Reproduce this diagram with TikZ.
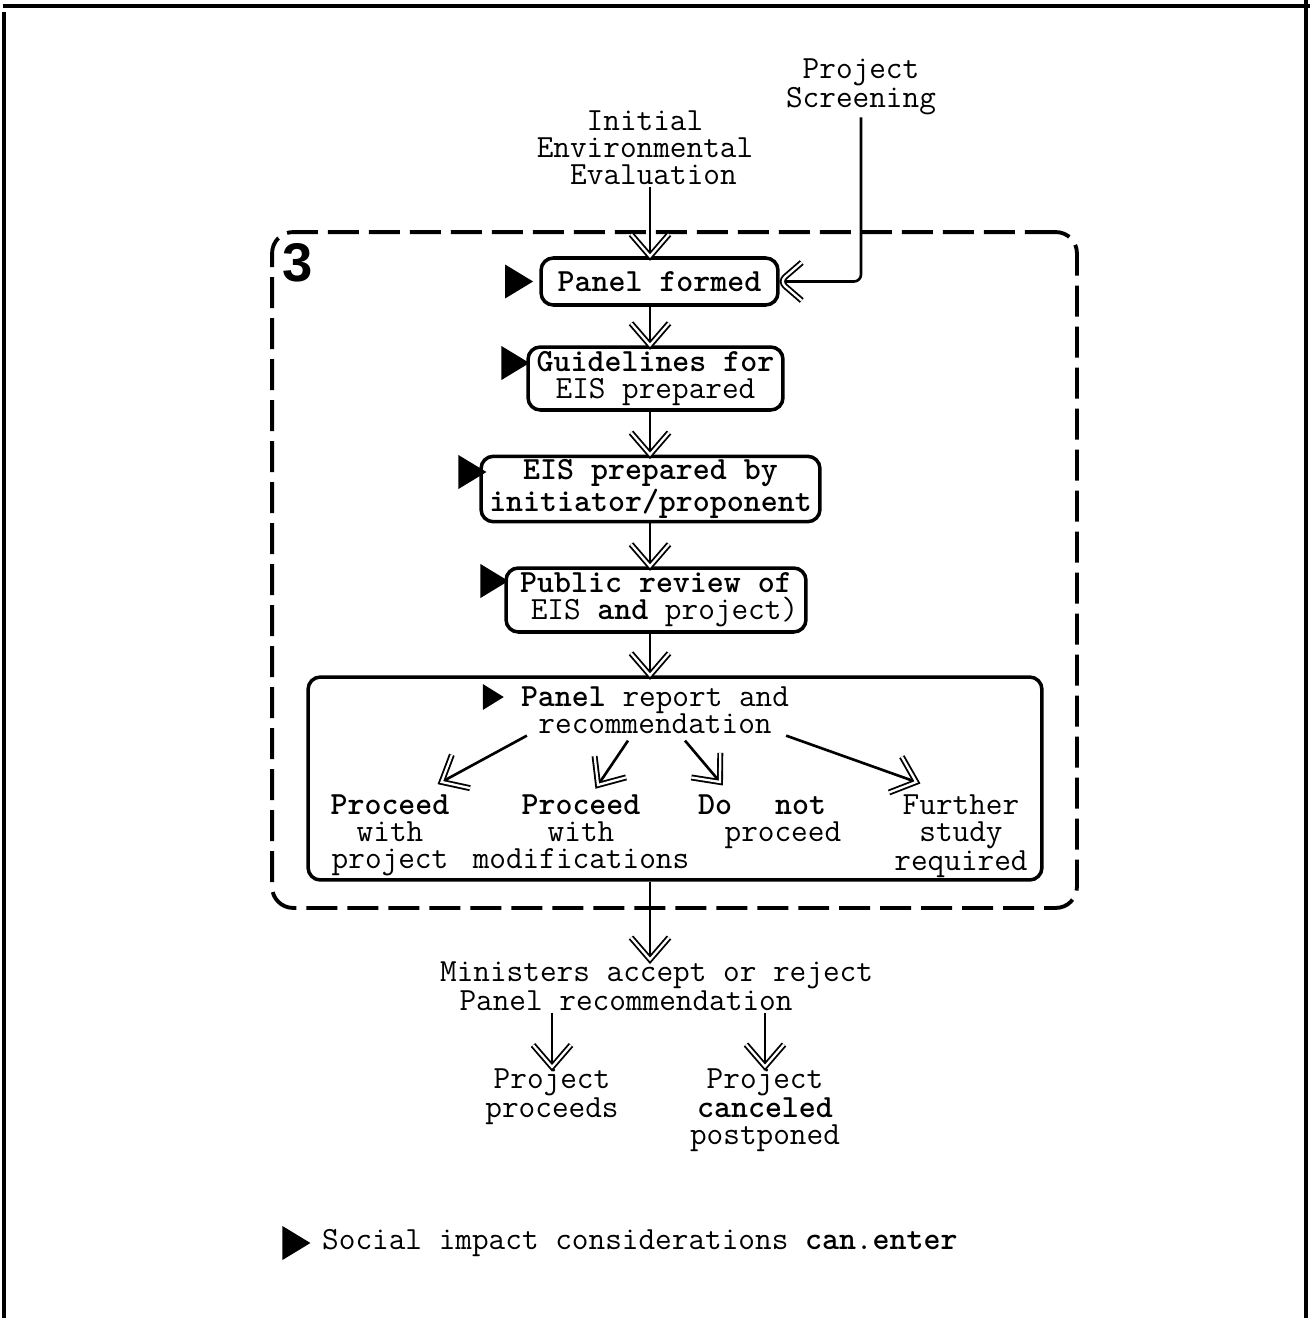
\documentclass[tikz,border=0pt]{standalone}
\usepackage{fontspec}
\newfontfamily\numfont{Liberation Sans}
\usepackage{tikz}
\usetikzlibrary{positioning, calc, shapes.geometric, decorations.markings}
\tikzset{
  stepbox/.style = {draw, line width=2pt, rounded corners=7pt, align=center,
                    inner sep=2pt},
  txt/.style     = {align=center, inner sep=1pt},
  sia/.style     = {isosceles triangle, isosceles triangle stretches,
                    fill=black, inner sep=0pt,
                    minimum width=0.68cm, minimum height=0.56cm},
  vhead/.style   = {double, double distance=1.3pt, line width=1.05pt,
                    line join=miter},
  vflow/.style   = {line width=1.5pt, postaction={decorate, decoration={markings,
                    mark=at position 1 with {\draw[vhead] (-0.44cm,0.38cm) -- (0,0) -- (-0.44cm,-0.38cm);}}}},
  stage/.style   = {draw, line width=2.2pt, rounded corners=12pt,
                    dash pattern=on 0.62cm off 0.2cm},
}

\begin{document}
\begin{tikzpicture}[x=0.02cm, y=-0.02cm,
                    font=\ttfamily\fontsize{18.4}{15.4}\selectfont]
  \useasboundingbox (0,0) rectangle (1310,1318);
  % page frame
  \draw[line width=2.4pt] (3,6) -- (1310,6);
  \draw[line width=1.8pt] (4,12) -- (4,1318);
  \draw[line width=2.2pt] (1306,0) -- (1306,1318);

  \coordinate (spine) at (650,0);

  \node[txt] (scr) at (861,87)  {Project\\Screening};
  \node[txt] (ini) at (645,148) {Initial\\Environmental\\\hspace*{0.525em}Evaluation};

  % stage 3
  \node[stage, minimum width=16.1cm, minimum height=13.52cm] (stage) at (674.5,570) {};
  \node[font=\numfont\bfseries\fontsize{31}{31}\selectfont, inner sep=0pt] (num) at (298,263) {3};

  \node[stepbox, minimum width=4.74cm, minimum height=0.94cm] (pf) at (659.5,281.5) {\textbf{Panel formed}};
  \node[stepbox, minimum width=5.1cm, minimum height=1.26cm]  (gl) at (655.5,378.5) {\textbf{Guidelines for}\\EIS prepared};
  \node[stepbox, minimum width=6.78cm, minimum height=1.24cm] (eis) at (650.5,489) {\textbf{EIS prepared by}\\\textbf{initiator/proponent}};
  \node[stepbox, minimum width=6cm, minimum height=1.28cm]    (pr) at (656,600) {\textbf{Public review of}\\\hspace*{0.525em}EIS \textbf{and} project)};
  \node[stepbox, minimum width=14.68cm, minimum height=4.06cm] (rep) at (675,778.5) {};

  \node[sia, left=3pt of pf] (pf-s) {};
  \node[sia] (gl-s)  at (511,363) {};
  \node[sia] (eis-s) at (468,472) {};
  \node[sia] (pr-s)  at (490,581) {};
  \node[sia, minimum width=0.52cm, minimum height=0.42cm] (rep-s) at (490,697) {};

  \node[txt] (rec) at (655,710) {\textbf{Panel} report and\\recommendation};
  \node[txt, anchor=north] (o1) at (390,793) {\textbf{Proceed}\\with\\project};
  \node[txt, anchor=north] (o2) at (581,793) {\textbf{Proceed}\\with\\modifications};
  \node[txt, anchor=north west, align=left] (o3) at (696,793) {\textbf{Do}\hspace{1.33em}\textbf{not}\\\hspace*{0.82em}proceed};
  \node[txt, anchor=north] (o4) at (961,793) {Further\\study\\required};

  \node[txt, align=left, anchor=west] (min) at (438,986) {Ministers accept or reject\\\hspace{0.6em}Panel recommendation};
  \node[txt] (pp) at (552,1097) {Project\\proceeds};
  \node[txt] (pc) at (765,1110) {Project\\\textbf{canceled}\\postponed};

  \draw[vflow] (ini.south -| spine) -- (pf.north -| spine);
  \draw[vflow, rounded corners=4pt] (scr.south) |- (pf.east);
  \draw[vflow] (pf.south -| spine) -- (gl.north -| spine);
  \draw[vflow] (gl.south -| spine) -- (eis.north -| spine);
  \draw[vflow] (eis.south -| spine) -- (pr.north -| spine);
  \draw[vflow] (pr.south -| spine) -- (rep.north -| spine);

  \draw[vflow] ([xshift=0.16cm]rec.south west) -- ([xshift=-0.2cm,yshift=0.22cm]o1.north east);
  \draw[vflow] ([xshift=-0.54cm,yshift=-0.1cm]rec.south) -- ([xshift=0.34cm,yshift=0.16cm]o2.north);
  \draw[vflow] ([xshift=0.6cm,yshift=-0.1cm]rec.south) -- ([xshift=0.48cm,yshift=0.22cm]o3.north west);
  \draw[vflow] ([xshift=-0.1cm]rec.south east) -- ([xshift=0.48cm,yshift=0.22cm]o4.north west);

  \draw[vflow] (rep.south -| spine) -- (min.north -| spine);
  \draw[vflow] (min.south -| pp) -- (pp.north);
  \draw[vflow] (min.south -| pc) -- (pc.north);

  % key
  \node[sia] (key-s) at (292,1243) {};
  \node[txt, right=5pt of key-s] (key) {Social impact considerations \textbf{can}.\textbf{enter}};
\end{tikzpicture}
\end{document}
